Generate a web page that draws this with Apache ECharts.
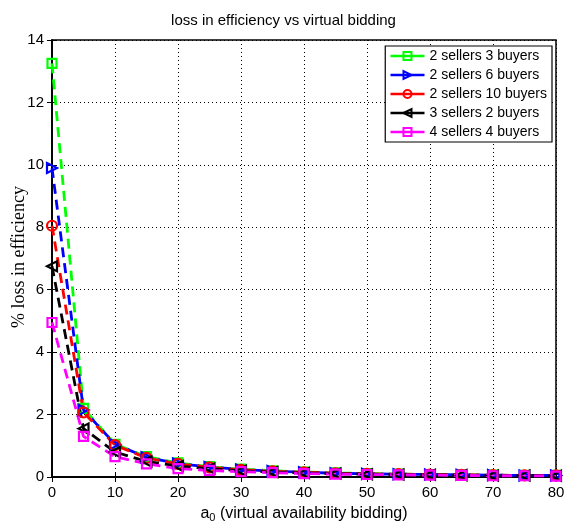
<!DOCTYPE html>
<html><head><meta charset="utf-8">
<script src="https://cdn.jsdelivr.net/npm/echarts@6/dist/echarts.min.js"></script>
<style>html,body{margin:0;padding:0;background:#fff}#c{width:567px;height:523px}</style>
</head><body><div id="c"></div>
<script>
const xValues = [0,5,10,15,20,25,30,35,40,45,50,55,60,65,70,75,80];
const s2s3b = [13.25,2.2,1.05,0.65,0.45,0.33,0.25,0.2,0.16,0.13,0.11,0.09,0.08,0.07,0.06,0.05,0.05];
const s2s6b = [9.9,2.15,1.05,0.63,0.43,0.32,0.24,0.19,0.15,0.12,0.1,0.09,0.08,0.07,0.06,0.05,0.05];
const s2s10b = [8.05,2.07,1.02,0.61,0.42,0.31,0.23,0.18,0.15,0.12,0.1,0.09,0.08,0.07,0.06,0.05,0.05];
const s3s2b = [6.75,1.55,0.8,0.5,0.35,0.27,0.2,0.16,0.13,0.11,0.09,0.08,0.07,0.06,0.05,0.05,0.04];
const s4s4b = [4.95,1.3,0.65,0.42,0.27,0.21,0.17,0.14,0.11,0.09,0.08,0.07,0.06,0.05,0.04,0.04,0.03];
const names = ['2 sellers 3 buyers','2 sellers 6 buyers','2 sellers 10 buyers','3 sellers 2 buyers','4 sellers 4 buyers'];
const colors = ['#00ff00','#0000ff','#ff0000','#000000','#ff00ff'];
const symbols = ['rect','triangle','circle','triangle','rect'];
const rotates = [0,-90,0,90,0];
const sizes = [9,10,10,10,9];
const data = [s2s3b,s2s6b,s2s10b,s3s2b,s4s4b];
const yTitle = '% loss in efficiency';

const chart = echarts.init(document.getElementById('c'));
const series = data.map((d,i)=>({
  name: names[i], type:'line', xAxisIndex:0, yAxisIndex:0,
  data: d.map((v,j)=>[xValues[j],v]),
  symbol: symbols[i], symbolSize: sizes[i], symbolRotate: rotates[i],
  showAllSymbol: true,
  lineStyle:{color:colors[i], width:2.8, type:[10,6]},
  itemStyle:{color:'rgba(255,255,255,0)', borderColor:colors[i], borderWidth:2.2},
  emphasis:{disabled:true}, animation:false
}));
const axisFont = {fontFamily:'Liberation Sans, Arial', fontSize:15, color:'#000'};
chart.setOption({
  animation:false,
  title:{text:'loss in efficiency vs virtual bidding', left:'center', top:8,
    textStyle:{fontFamily:'Liberation Sans, Arial', fontSize:15, fontWeight:'normal', color:'#000'}},
  graphic:[{type:'text', x:19, y:257, rotation:Math.PI/2,
    style:{text:yTitle, font:'18px "Liberation Serif", "Times New Roman"', fill:'#000', align:'center', verticalAlign:'middle'}}],
  grid:{left:52, right:11, top:40, bottom:46, show:true, borderColor:'#000', borderWidth:1.5,
    containLabel:false, outerBoundsMode:'none'},
  legend:{data:names.map((n,i)=>({name:n,
      itemStyle:{color:'rgba(255,255,255,0)', borderColor:colors[i], borderWidth:2},
      lineStyle:{color:colors[i], width:2.5, type:'solid'}})),
    orient:'vertical', right:15, top:46, itemWidth:34, itemHeight:10, itemGap:5,
    backgroundColor:'#fff', borderColor:'#000', borderWidth:1.2, padding:[3,5,3,4],
    textStyle:{fontFamily:'Liberation Sans, Arial', fontSize:14, color:'#000'}},
  xAxis:[{type:'value', min:0, max:80, interval:10,
    name:'{a|a}{s|0} (virtual availability bidding)', nameLocation:'middle', nameGap:27,
    nameTextStyle:{rich:{a:{fontFamily:'Liberation Sans, Arial', fontSize:16, color:'#000'},
      s:{fontFamily:'Liberation Sans, Arial', fontSize:11, color:'#000', verticalAlign:'bottom', padding:[8,0,0,0]}},
      fontFamily:'Liberation Sans, Arial', fontSize:16, color:'#000'},
    axisLine:{lineStyle:{color:'#000', width:1.5}},
    axisTick:{inside:true, length:5, lineStyle:{color:'#000'}},
    axisLabel:Object.assign({margin:8}, axisFont),
    splitLine:{show:true, lineStyle:{color:'#000', type:[1,3], width:1}}},
   {type:'value', position:'top', min:0, max:80, interval:10,
    axisLine:{show:true,lineStyle:{color:'#000', width:1.5}},
    axisTick:{inside:true, length:5, lineStyle:{color:'#000'}},
    axisLabel:{show:false}, splitLine:{show:false}}],
  yAxis:[{type:'value', min:0, max:14, interval:2,
    axisLine:{show:true, lineStyle:{color:'#000', width:1.5}},
    axisTick:{inside:true, length:5, lineStyle:{color:'#000'}},
    axisLabel:Object.assign({margin:8}, axisFont),
    splitLine:{show:true, lineStyle:{color:'#000', type:[1,3], width:1}}},
   {type:'value', position:'right', min:0, max:14, interval:2,
    axisLine:{show:true, lineStyle:{color:'#000', width:1.5}},
    axisTick:{inside:true, length:5, lineStyle:{color:'#000'}},
    axisLabel:{show:false}, splitLine:{show:false}}],
  series: series
});
</script></body></html>
